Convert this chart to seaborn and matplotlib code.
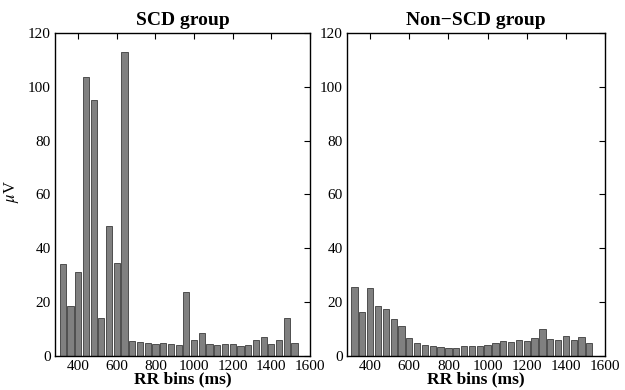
import numpy as np
import pandas as pd
import matplotlib
matplotlib.use('Agg')
import matplotlib.pyplot as plt
import seaborn as sns

# RR bin centres (ms)
rr_bins = [320, 360, 400, 440, 480, 520, 560, 600, 640, 680, 720, 760, 800,
           840, 880, 920, 960, 1000, 1040, 1080, 1120, 1160, 1200, 1240, 1280,
           1320, 1360, 1400, 1440, 1480, 1520]

# Amplitudes (uV)
scd_values = [34.2, 18.6, 31.2, 103.6, 95.2, 14.2, 48.3, 34.6, 112.9, 5.3,
              5.1, 4.8, 4.4, 4.7, 4.3, 3.8, 23.8, 6.0, 8.6, 4.4, 4.0, 4.2,
              4.4, 3.5, 4.1, 5.8, 7.0, 4.3, 6.0, 14.2, 4.7]
non_scd_values = [25.4, 16.3, 25.2, 18.3, 17.5, 13.5, 11.2, 6.4, 4.9, 4.1,
                  3.7, 3.3, 2.8, 2.8, 3.5, 3.5, 3.5, 4.1, 4.8, 5.6, 5.2, 6.0,
                  5.6, 6.7, 9.8, 6.2, 6.0, 7.4, 6.0, 7.0, 4.9]

titles = ['SCD group', 'Non\u2212SCD group']
x_ticks = [400, 600, 800, 1000, 1200, 1400, 1600]
y_ticks = [0, 20, 40, 60, 80, 100, 120]

sns.set_style('white')
plt.rcParams['font.family'] = ['Liberation Serif', 'DejaVu Serif']
plt.rcParams['mathtext.fontset'] = 'stix'
plt.rcParams['text.color'] = 'black'
plt.rcParams['axes.labelcolor'] = 'black'

fig = plt.figure(figsize=(6.25, 3.9), dpi=100)
ax_left = fig.add_axes([0.088, 0.088, 0.408, 0.827])
ax_right = fig.add_axes([0.5547, 0.088, 0.4133, 0.827])

for ax, values, title in zip([ax_left, ax_right],
                             [scd_values, non_scd_values], titles):
    df = pd.DataFrame({'rr': rr_bins, 'amp': values})
    sns.barplot(data=df, x='rr', y='amp', native_scale=True, width=0.8,
                color='#808080', saturation=1, edgecolor='#3c3c3c',
                linewidth=0.6, ax=ax)
    ax.set_xlim(280, 1600)
    ax.set_ylim(0, 120)
    ax.set_xticks(x_ticks)
    ax.set_yticks(y_ticks)
    ax.tick_params(direction='in', length=4, width=0.8, top=True,
                   right=True, labelsize=11, pad=3, colors='black')
    for spine in ax.spines.values():
        spine.set_visible(True)
        spine.set_color('black')
        spine.set_linewidth(1.0)
    ax.set_title(title, fontsize=14, fontweight='bold', pad=6, color='black')
    ax.set_xlabel('RR bins (ms)', fontsize=12.5, fontweight='bold',
                  labelpad=-1)
    ax.set_ylabel('')

ax_left.set_ylabel(r'$\mu$V', fontsize=12)
ax_left.yaxis.set_label_coords(-0.135, 0.51)

plt.savefig('out.png', dpi=100)
plt.close()
